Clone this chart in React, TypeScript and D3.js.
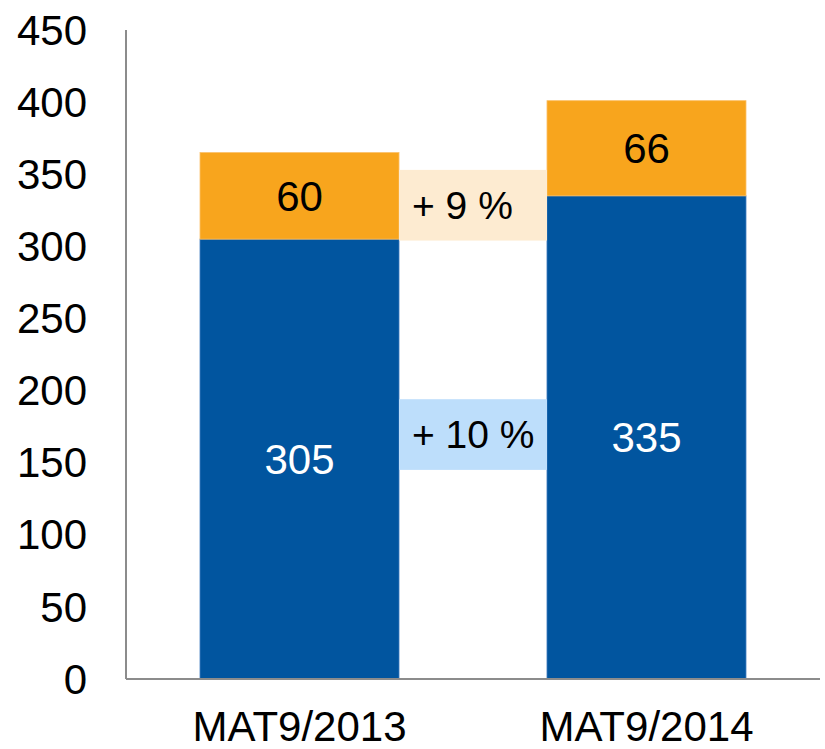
import React from "react";
import * as d3 from "d3";

const categories = ["MAT9/2013", "MAT9/2014"];
const baseValues = [305, 335];
const topValues = [60, 66];
const yTicks = [0, 50, 100, 150, 200, 250, 300, 350, 400, 450];
const growthLabels = ["+ 9 %", "+ 10 %"];
// growth label boxes, as value ranges on the y scale [low, high]
const growthRanges: [number, number][] = [
  [304, 353],
  [145, 194],
];

const W = 825;
const H = 749;
const BLUE = "#01559F";
const ORANGE = "#F8A51D";
const BOX_FILLS = ["#FDEBD1", "#BDDEFB"];
const FONT = "'Liberation Sans', Arial, sans-serif";

export default function App() {
  const y = d3.scaleLinear().domain([0, 450]).range([679, 30]);
  const x = d3
    .scaleBand<string>()
    .domain(categories)
    .range([126, 820])
    .paddingInner(0.4265)
    .paddingOuter(0.2133);
  const bw = x.bandwidth();
  const gapL = (x(categories[0]) as number) + bw;
  const gapR = x(categories[1]) as number;

  return (
    <svg
      width={W}
      height={H}
      style={{ position: "absolute", left: 0, top: 0, background: "#fff" }}
      fontFamily={FONT}
    >
      {categories.map((c, i) => {
        const x0 = x(c) as number;
        const b = baseValues[i];
        const t = topValues[i];
        return (
          <g key={c}>
            <rect
              x={x0}
              y={y(b)}
              width={bw}
              height={y(0) - y(b)}
              fill={BLUE}
              stroke="#3f7cc0"
              strokeWidth={0.8}
            />
            <rect
              x={x0}
              y={y(b + t)}
              width={bw}
              height={y(b) - y(b + t)}
              fill={ORANGE}
              stroke="#fbbf66"
              strokeWidth={0.8}
            />
            <text
              x={x0 + bw / 2}
              y={(y(b) + y(0)) / 2}
              dy="0.35em"
              textAnchor="middle"
              fontSize={42}
              fill="#ffffff"
            >
              {b}
            </text>
            <text
              x={x0 + bw / 2}
              y={(y(b) + y(b + t)) / 2}
              dy="0.35em"
              textAnchor="middle"
              fontSize={42}
              fill="#000000"
            >
              {t}
            </text>
            <text
              x={x0 + bw / 2}
              y={741}
              textAnchor="middle"
              fontSize={42}
              fill="#000000"
            >
              {c}
            </text>
          </g>
        );
      })}

      {growthLabels.map((g, i) => {
        const [lo, hi] = growthRanges[i];
        return (
          <g key={g}>
            <rect
              x={gapL}
              y={y(hi)}
              width={gapR - gapL}
              height={y(lo) - y(hi)}
              fill={BOX_FILLS[i]}
            />
            <text
              x={gapL + 13}
              y={(y(lo) + y(hi)) / 2}
              dy="0.35em"
              textAnchor="start"
              fontSize={39}
              fill="#000000"
            >
              {g}
            </text>
          </g>
        );
      })}

      <line x1={126} x2={126} y1={y(450)} y2={y(0)} stroke="#8c8c8c" strokeWidth={2} />
      <line x1={126} x2={820} y1={y(0)} y2={y(0)} stroke="#8c8c8c" strokeWidth={2} />
      {yTicks.map((t) => (
        <text
          key={t}
          x={87}
          y={y(t)}
          dy="0.35em"
          textAnchor="end"
          fontSize={42}
          fill="#000000"
        >
          {t}
        </text>
      ))}
    </svg>
  );
}
